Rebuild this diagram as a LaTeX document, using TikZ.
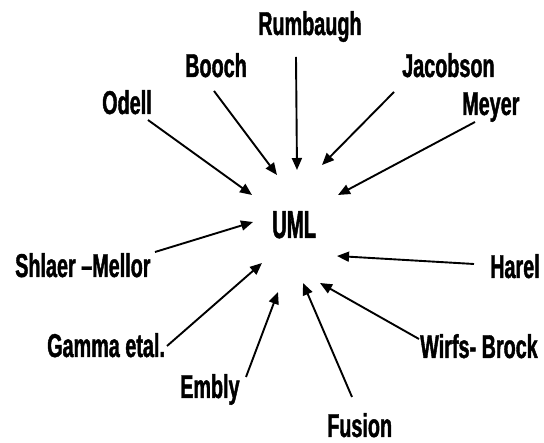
\documentclass[tikz,border=0pt]{standalone}
\usepackage{fontspec}
\usetikzlibrary{arrows.meta}
\newfontfamily\lblfamily[FakeStretch=0.6,FakeBold=1.2]{Liberation Sans}
\newfontfamily\umlfamily[FakeStretch=0.52,FakeBold=1.2]{Liberation Sans}
\tikzset{
  lbl/.style={anchor=base west, inner sep=0pt, font=\lblfamily\bfseries\fontsize{33}{33}\selectfont},
  umllbl/.style={anchor=base west, inner sep=0pt, font=\umlfamily\bfseries\fontsize{39}{39}\selectfont},
  feed/.style={line width=1.9pt, -{Triangle[length=12pt,width=10pt]}}
}
\begin{document}
\begin{tikzpicture}[x=1pt,y=-1pt]
\useasboundingbox (0,0) rectangle (544,443);
% labels
\node[umllbl] (uml) at (272,238) {UML};
\node[lbl] (rumbaugh) at (258,35) {Rumbaugh};
\node[lbl] (booch) at (185,77) {Booch};
\node[lbl] (odell) at (102,114) {Odell};
\node[lbl] (jacobson) at (402,77) {Jacobson};
\node[lbl] (meyer) at (462,115) {Meyer};
\node[lbl] (shlaer) at (15,277) {Shlaer –Mellor};
\node[lbl] (harel) at (490,278) {Harel};
\node[lbl] (gamma) at (47,357) {Gamma etal.};
\node[lbl] (wirfs) at (420,358) {Wirfs- Brock};
\node[lbl] (embly) at (180,398) {Embly};
\node[lbl] (fusion) at (327,437) {Fusion};
% connector ends
\coordinate (rumbaugh-s) at (296,57);  \coordinate (rumbaugh-t) at (297,170);
\coordinate (booch-s) at (214,91);     \coordinate (booch-t) at (277,175);
\coordinate (odell-s) at (148,120);    \coordinate (odell-t) at (252,195);
\coordinate (jacobson-s) at (394,92);  \coordinate (jacobson-t) at (322,165);
\coordinate (meyer-s) at (475,122);    \coordinate (meyer-t) at (338,195);
\coordinate (shlaer-s) at (155,252);   \coordinate (shlaer-t) at (253,222);
\coordinate (harel-s) at (474,264);    \coordinate (harel-t) at (337,256);
\coordinate (gamma-s) at (167,346);    \coordinate (gamma-t) at (262,263);
\coordinate (wirfs-s) at (419,339);    \coordinate (wirfs-t) at (320,283);
\coordinate (embly-s) at (246,377);    \coordinate (embly-t) at (278,292);
\coordinate (fusion-s) at (352,397);   \coordinate (fusion-t) at (303,283);
% connectors
\foreach \n in {rumbaugh,booch,odell,jacobson,meyer,shlaer,harel,gamma,wirfs,embly,fusion}
  \draw[feed] (\n-s) -- (\n-t);
\end{tikzpicture}
\end{document}
